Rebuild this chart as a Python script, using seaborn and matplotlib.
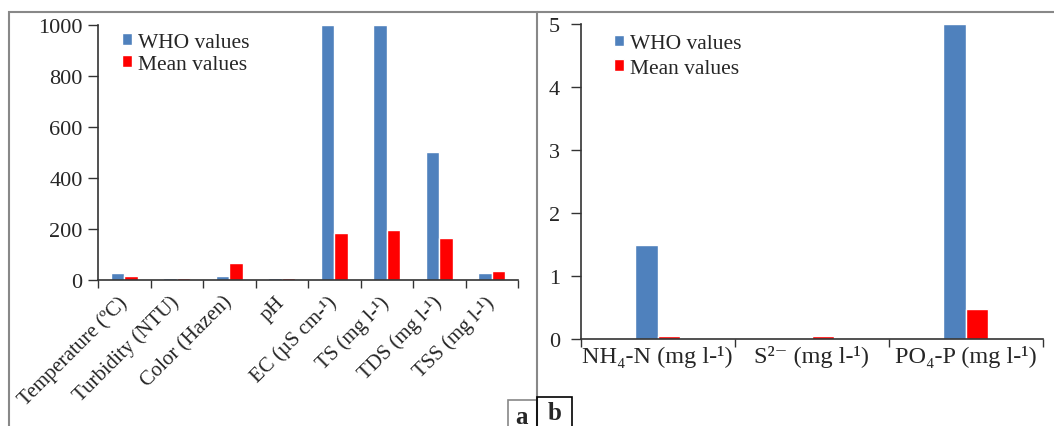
import pandas as pd
import seaborn as sns
import matplotlib.pyplot as plt
from matplotlib.patches import Rectangle
from matplotlib.lines import Line2D

# Datos
params_a = ['Temperature (ºC)', 'Turbidity (NTU)', 'Color (Hazen)', 'pH',
            'EC (µS cm-¹)', 'TS (mg l-¹)', 'TDS (mg l-¹)', 'TSS (mg l-¹)']
who_a = [25, 5, 15, 8.5, 1000, 1000, 500, 25]
mean_a = [15, 7, 65, 7.5, 182, 196, 165, 33]

params_b = ['NH₄-N (mg l-¹)', 'S²⁻ (mg l-¹)', 'PO₄-P (mg l-¹)']
who_b = [1.5, 0, 5]
mean_b = [0.04, 0.05, 0.48]

series = ['WHO values', 'Mean values']
colores = {'WHO values': '#4F81BD', 'Mean values': '#FF0000'}


def largo(params, who, mean):
    return pd.DataFrame({
        'param': params * 2,
        'serie': [series[0]] * len(params) + [series[1]] * len(params),
        'valor': who + mean,
    })


df_a = largo(params_a, who_a, mean_a)
df_b = largo(params_b, who_b, mean_b)

sns.set_style('white')
plt.rcParams['font.family'] = ['Liberation Serif', 'DejaVu Serif']
plt.rcParams['font.size'] = 14

W, H = 1054, 427
fig = plt.figure(figsize=(W / 100, H / 100), dpi=100)

ax1 = fig.add_axes([98 / W, 1 - 280.7 / H, 420 / W, 254.7 / H])
ax2 = fig.add_axes([580.7 / W, 1 - 340 / H, 462 / W, 314.7 / H])


def estilo(ax, n, xsize, ypad):
    ax.set_xlim(-0.5, n - 0.5)
    ax.set_xticks([i - 0.5 for i in range(n + 1)], minor=True)
    ax.tick_params(axis='x', which='major', length=0, labelsize=xsize)
    ax.tick_params(axis='x', which='minor', length=6, width=1, color='#333333',
                   direction='out', bottom=True)
    ax.tick_params(axis='y', length=7, width=1, color='#333333', direction='out',
                   left=True, labelsize=16, pad=ypad)
    for s in ['top', 'right']:
        ax.spines[s].set_visible(False)
    for s in ['left', 'bottom']:
        ax.spines[s].set_color('#333333')
        ax.spines[s].set_linewidth(1.2)
    ax.set_xlabel('')
    ax.set_ylabel('')


sns.barplot(data=df_a, x='param', y='valor', hue='serie', palette=colores,
            width=0.51, ax=ax1, saturation=1)
estilo(ax1, len(params_a), 15, 4)
ax1.tick_params(axis='x', which='major', pad=14)
ax1.set_ylim(0, 1000)
ax1.set_yticks(range(0, 1001, 200))
plt.setp(ax1.get_xticklabels(), rotation=45, ha='right', va='center',
         rotation_mode='anchor')
ax1.legend(loc='upper left', bbox_to_anchor=(24 / 420, 0.97), frameon=False,
           borderaxespad=0, borderpad=0, handlelength=0.45, handleheight=0.45,
           handletextpad=0.3, labelspacing=0.15, fontsize=15.5)

sns.barplot(data=df_b, x='param', y='valor', hue='serie', palette=colores,
            width=0.29, ax=ax2, saturation=1)
estilo(ax2, len(params_b), 17.5, 8)
ax2.tick_params(axis='x', which='major', pad=4)
ax2.set_ylim(0, 5)
ax2.set_yticks(range(0, 6))
ax2.legend(loc='upper left', bbox_to_anchor=(0.072, 0.968), frameon=False,
           borderaxespad=0, borderpad=0, handlelength=0.45, handleheight=0.45,
           handletextpad=0.3, labelspacing=0.25, fontsize=15.5)

# Bordes de los paneles
gris = '#888888'
fig.add_artist(Rectangle((9 / W, -0.05), (537 - 9) / W, (H - 13) / H + 0.05,
                         transform=fig.transFigure, fill=False, ec=gris, lw=1.5))
fig.add_artist(Line2D([537 / W, 1], [1 - 13 / H, 1 - 13 / H],
                      transform=fig.transFigure, color=gris, lw=1.5))

# Etiquetas a y b
fig.add_artist(Rectangle((507.7 / W, -0.05), 29.3 / W, (H - 400.7) / H + 0.05,
                         transform=fig.transFigure, fill=False, ec=gris, lw=1.2))
fig.add_artist(Rectangle((537 / W, -0.05), 35 / W, (H - 398.3) / H + 0.05,
                         transform=fig.transFigure, fill=False, ec='black', lw=1.2))
fig.text(522 / W, 1 - 406 / H, 'a', ha='center', va='top', fontsize=18,
         fontweight='bold')
fig.text(554.5 / W, 1 - 402 / H, 'b', ha='center', va='top', fontsize=18,
         fontweight='bold')

fig.savefig('out.png', dpi=100)
